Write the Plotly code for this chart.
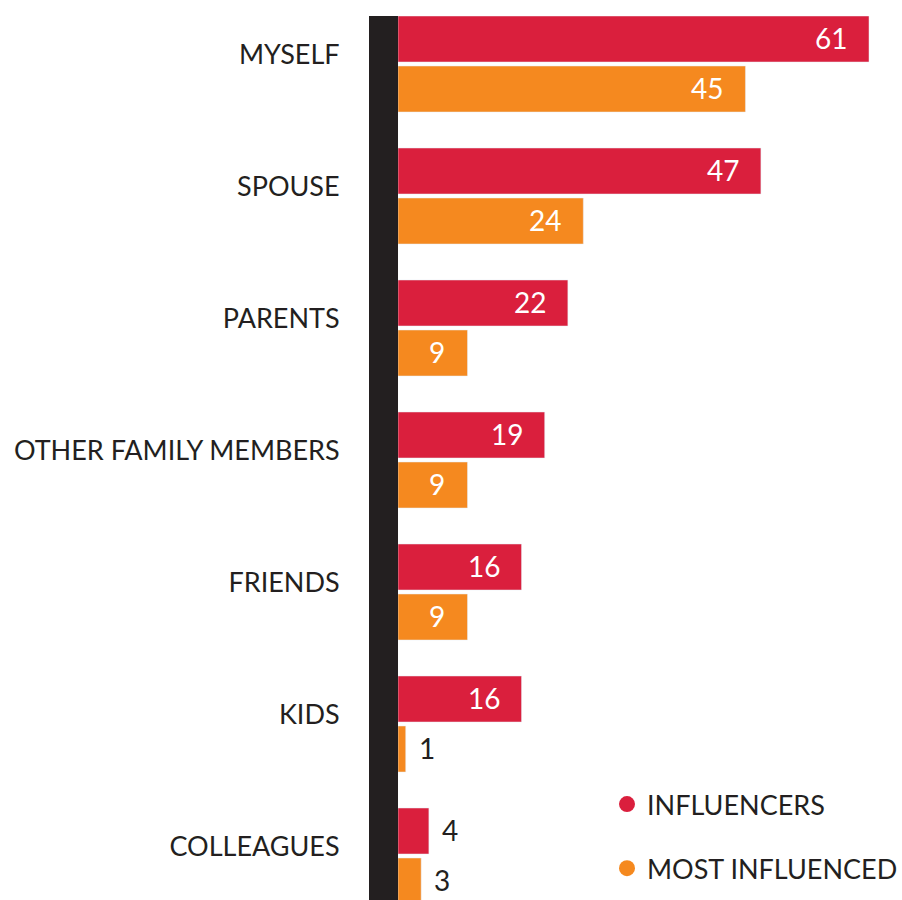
import plotly.graph_objects as go

categories = ["MYSELF", "SPOUSE", "PARENTS", "OTHER FAMILY MEMBERS", "FRIENDS", "KIDS", "COLLEAGUES"]
influencers = [61, 47, 22, 19, 16, 16, 4]
most_influenced = [45, 24, 9, 9, 9, 1, 3]
series_names = ["INFLUENCERS", "MOST INFLUENCED"]

RED = "#DA1F3D"
ORANGE = "#F5891F"
DARK = "#231F20"
FONT = "Lato"

fig = go.Figure()
fig.add_trace(go.Bar(y=categories, x=influencers, orientation="h", marker_color=RED,
                     name=series_names[0], showlegend=False))
fig.add_trace(go.Bar(y=categories, x=most_influenced, orientation="h", marker_color=ORANGE,
                     name=series_names[1], showlegend=False))

# legend entries with circle markers
fig.add_trace(go.Scatter(x=[None], y=[None], mode="markers", name=series_names[0],
                         marker=dict(color=RED, size=24, symbol="circle"), legendgroup="a"))
fig.add_trace(go.Scatter(x=[None], y=[None], mode="markers", name=series_names[1],
                         marker=dict(color=ORANGE, size=24, symbol="circle"), legendgroup="b"))

annotations = []
for vals, shift in ((influencers, 25), (most_influenced, -25)):
    for c, v in zip(categories, vals):
        inside = v >= 9
        annotations.append(dict(
            x=v, y=c, xref="x", yref="y", text=str(v), showarrow=False,
            xanchor="right" if inside else "left",
            xshift=-20 if inside else 11, yshift=shift + 1,
            font=dict(family=FONT, size=28, color="white" if inside else DARK),
        ))

fig.update_layout(
    width=902, height=900,
    margin=dict(l=398, r=0, t=16, b=0, pad=0, autoexpand=False),
    plot_bgcolor="white", paper_bgcolor="white",
    barmode="group", bargap=32 / 132, bargroupgap=0.08,
    annotations=annotations,
    showlegend=True,
    legend=dict(x=(607 - 398) / 504, y=(900 - 780) / 884, xanchor="left", yanchor="top",
                font=dict(family=FONT, size=27, color=DARK), tracegroupgap=26,
                bgcolor="rgba(0,0,0,0)", itemsizing="trace"),
    xaxis=dict(range=[0, 504 / (471 / 61)], visible=False, showgrid=False, zeroline=False),
    yaxis=dict(categoryorder="array", categoryarray=categories,
               range=[(900 - 64) / 132, (16 - 64) / 132],
               showline=True, linecolor=DARK, linewidth=29,
               showgrid=False, zeroline=False, ticks="", ticklabelstandoff=24,
               ticklabelshift=9,
               tickfont=dict(family=FONT, size=27, color=DARK)),
)

fig.write_html("out.html")
